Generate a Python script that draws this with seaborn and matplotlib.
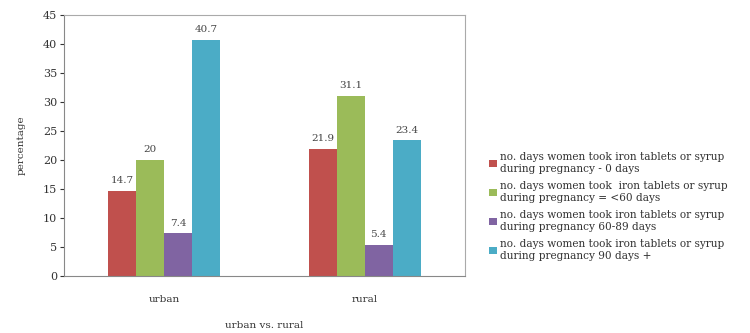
import matplotlib
matplotlib.use("Agg")
import matplotlib.pyplot as plt
import pandas as pd
import seaborn as sns

areas = ["urban", "rural"]
groups = [
    "no. days women took iron tablets or syrup\nduring pregnancy - 0 days",
    "no. days women took  iron tablets or syrup\nduring pregnancy = <60 days",
    "no. days women took iron tablets or syrup\nduring pregnancy 60-89 days",
    "no. days women took iron tablets or syrup\nduring pregnancy 90 days +",
]
urban = [14.7, 20, 7.4, 40.7]
rural = [21.9, 31.1, 5.4, 23.4]
colors = ["#C0504D", "#9BBB59", "#8064A2", "#4BACC6"]

rows = []
for g, u, r in zip(groups, urban, rural):
    rows.append({"area": "urban", "group": g, "pct": u})
    rows.append({"area": "rural", "group": g, "pct": r})
df = pd.DataFrame(rows)

sns.set_style("white")
plt.rcParams["font.family"] = ["DejaVu Serif"]

fig = plt.figure(figsize=(7.5, 3.33), dpi=100)
ax = fig.add_axes([64 / 750, 1 - 276 / 333, (465 - 64) / 750, (276 - 15) / 333])

sns.barplot(data=df, x="area", y="pct", hue="group", order=areas,
            hue_order=groups, palette=colors, width=0.56, saturation=1,
            linewidth=0, ax=ax, legend=True)

for cont in ax.containers:
    ax.bar_label(cont, labels=[f"{v:g}" for v in cont.datavalues],
                 padding=4, fontsize=7.5, color="#444444")

ax.set_ylim(0, 45)
ax.set_yticks(range(0, 46, 5))
ax.set_xlim(-0.5, 1.5)
ax.tick_params(axis="y", length=3, direction="out", left=True,
               labelsize=8, colors="#333333", pad=2)
ax.tick_params(axis="x", length=0, labelsize=7.5, colors="#333333", pad=14)
for s in ax.spines.values():
    s.set_color("#aaaaaa")
    s.set_linewidth(0.8)
ax.spines["left"].set_color("#888888")
ax.spines["bottom"].set_color("#888888")
ax.set_ylabel("percentage", fontsize=7.5, color="#333333", labelpad=12)
ax.set_xlabel("urban vs. rural", fontsize=7.5, color="#333333", labelpad=12)

handles, labels = ax.get_legend_handles_labels()
ax.get_legend().remove()
fig.legend(handles, labels, loc="upper left", bbox_to_anchor=(485 / 750, 1 - 148 / 333),
           frameon=False, fontsize=7.6, handlelength=0.7, handleheight=0.7,
           handletextpad=0.3, labelspacing=0.7, borderaxespad=0,
           labelcolor="#333333")

fig.savefig("out.png", dpi=100)
